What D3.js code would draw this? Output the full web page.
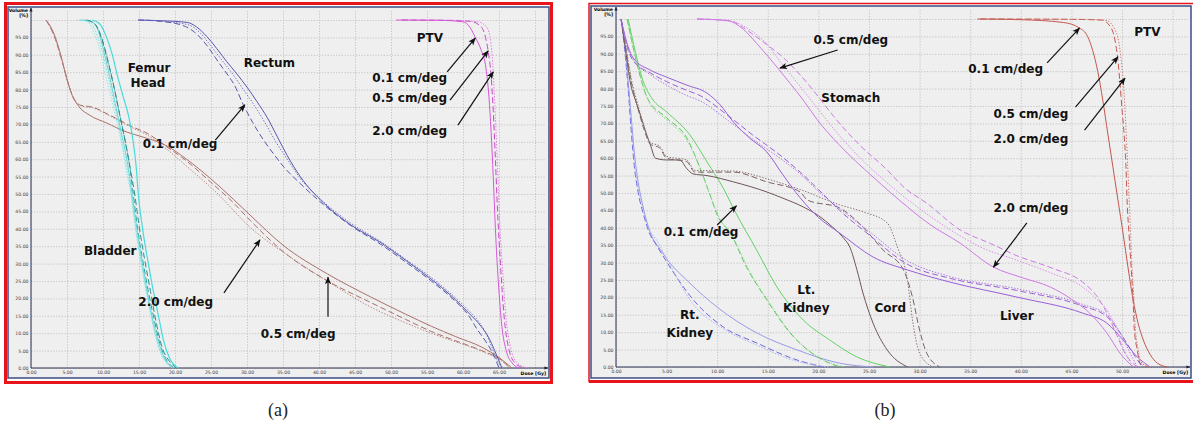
<!DOCTYPE html>
<html>
<head>
<meta charset="utf-8">
<script src="https://cdn.jsdelivr.net/npm/d3@7"></script>
<style>
  body { margin: 0; background: #fff; }
  .note { font-family: "DejaVu Sans", sans-serif; font-weight: bold; font-size: 12px; fill: #111; }
  .tick text { font-family: "DejaVu Sans", sans-serif; font-size: 4.6px; fill: #444; }
  .cap { font-family: "Liberation Serif", "DejaVu Serif", serif; font-size: 18px; fill: #222; }
</style>
</head>
<body>
<div id="chart"></div>
<script>
// ---------- data : dose [Gy], volume [%] ----------
var volTicks = d3.range(0, 101, 5);
var doseTicksA = d3.range(0, 71, 5);
var doseTicksB = d3.range(0, 56, 5);

// panel (a) - prostate
var bladder01 = [[2.1,100],[3.2,96],[4.2,89.4],[4.9,83.6],[5.6,79],[6.7,75],[8.1,72.7],[10.5,70.4],[13.3,67.8],[15.5,66.4],[18.9,63.8],[21.6,60],[24.9,54.5],[28.1,48.5],[30.4,44],[35,35.3],[41.2,27],[47.2,20.4],[52,15.5],[55.6,12],[59,9],[62.6,6],[65,3],[66.8,0]];
var bladder05 = [[2.1,100],[3.2,95.5],[4.2,89],[5,83],[5.7,78.5],[6.9,75.5],[8.5,75],[10.9,72.7],[14.1,69.3],[16.1,67.5],[18.9,63.5],[21.6,59.5],[24.9,53.5],[28.1,47.5],[30.4,42.5],[35,33.5],[41.2,25],[47.2,18.8],[52,14],[55.6,10.5],[59,7.8],[62.6,5],[65.5,2],[66.5,0]];
var bladder20 = [[2.1,100],[3.3,95],[4.3,88.5],[5.1,82.5],[5.8,78],[7,75.3],[8.5,74.8],[10.9,72.5],[14.1,69],[16.1,67],[18.9,62.8],[21.6,58],[25.8,50.3],[30.4,40.5],[36,31.9],[41.6,24.4],[47.2,17.5],[52,13],[55.6,10],[59,7.5],[62.6,4.8],[65.5,1.8],[66.5,0]];

var femurL01 = [[8.5,100],[9.5,99],[10.5,95],[11.3,90],[12,84],[12.8,78],[13.6,72],[14.2,65],[14.6,58],[14.9,50],[15.5,40],[16.3,30],[17,22],[17.7,15],[18.4,8],[19.2,3],[20.4,0]];
var femurL05 = [[7.5,100],[8.8,99],[9.8,95],[10.6,89],[11.4,82],[12.2,74],[13,66],[13.7,58],[14.2,50],[14.8,40],[15.6,30],[16.3,22],[17.1,14],[17.9,7],[18.9,2],[20,0]];
var femurL20 = [[6.4,100],[7.8,99.5],[8.8,96],[9.6,91],[10.4,84],[11.2,77],[12,70],[12.8,62],[13.4,55],[13.9,50],[14.5,40],[15.3,30],[16,22],[16.8,14],[17.6,7],[18.6,2],[19.6,0]];
var femurR01 = [[7,100],[8.5,99.5],[9.4,96.5],[10.1,91],[10.9,84],[11.7,76],[12.5,68],[13.3,60],[13.9,52],[14.3,46],[15,36],[15.8,26],[16.6,17],[17.5,9],[18.5,3],[19.8,0]];
var femurR05 = [[7.8,100],[9,98.5],[9.9,94],[10.8,87],[11.6,80],[12.4,72],[13.2,64],[13.9,56],[14.4,50],[15,41],[15.8,31],[16.6,22],[17.4,13],[18.2,6],[19.2,2],[20.2,0]];
var femurR20 = [[6.8,100],[8.2,99.3],[9.2,95.5],[10,90],[10.8,83],[11.6,75.5],[12.4,67.5],[13.1,60],[13.7,53],[14.1,47],[14.8,37],[15.6,27],[16.4,18],[17.2,10],[18.1,4],[19.1,1],[20,0]];

var rectum01 = [[14.9,100],[18,99.6],[21,98.5],[23,96],[24.5,92.5],[26,88],[27.4,84],[28.2,81.5],[29.5,75.6],[30.8,70.5],[32.3,65.5],[33.7,61.5],[35.1,57.8],[37.4,53],[40.6,47],[44.5,40.8],[48.6,35.5],[52,30.5],[55.6,25],[58.5,20],[60.8,15],[62,11],[63.2,7.5],[64.2,4],[65,0]];
var rectum05 = [[14.9,100],[18,99.8],[21.7,99.3],[23,98],[24.4,95.3],[25.8,91.8],[27.2,88],[28.6,84.5],[30,80.7],[31.4,76.5],[32.8,72],[34.2,66.5],[35.6,61],[37.4,55],[40.6,47.5],[44.5,41],[48.6,36],[52,31],[55.6,25.5],[58.5,20.5],[60.8,15.8],[62.5,12],[63.5,9],[64.4,5],[65.4,0]];
var rectum20 = [[16,100],[19,99.5],[22,98.5],[23.5,96.3],[25,92.5],[26.5,88.5],[28,84.5],[29.5,80],[31,75.5],[32.5,70.5],[34,65],[35.6,60],[37.4,54.5],[40.6,47.8],[44.5,41.5],[48.6,36.3],[52,31.3],[55.6,26],[58.5,21],[60.8,16.5],[62.3,13],[63.3,9.5],[64,6],[64.8,2],[65.6,0]];

var ptvA01 = [[50.7,100],[57,99.9],[60,99.5],[61,97.8],[61.7,95],[62.5,91.5],[63.2,86],[63.6,78],[63.9,68],[64.2,55],[64.5,40],[64.9,25],[65.4,12],[66,5],[66.8,1.5],[67.8,0]];
var ptvA05 = [[51.5,100],[58,99.9],[61,99.6],[62.3,98.5],[63,96],[63.5,91],[63.9,84],[64.2,74],[64.5,60],[64.8,45],[65.2,30],[65.7,15],[66.3,6],[67.2,1.5],[68.5,0]];
var ptvA20 = [[52,100],[59,99.9],[62,99.5],[63.3,98],[63.9,93],[64.2,85],[64.5,72],[64.8,58],[65.1,42],[65.5,28],[66,14],[66.6,6],[67.5,1.5],[69,0]];

// panel (b) - abdomen
var rtKidney01 = [[0.5,100],[0.9,92],[1.2,82],[1.5,72],[1.8,62],[2.2,53],[2.6,47],[3.2,40.2],[4.6,32.8],[7.3,24.1],[10,17.2],[13.9,9.8],[17.9,4.9],[22.1,1.1],[25.4,0]];
var rtKidney05 = [[0.5,100],[0.9,90],[1.2,80],[1.5,68],[1.8,58],[2.2,50],[2.7,44],[3.3,38.5],[4,35],[5.5,28],[7.3,20.5],[10.6,11.5],[13.9,6.9],[17.9,2],[20.5,0]];
var rtKidney20 = [[0.5,100],[0.9,91],[1.2,81],[1.5,70],[1.8,60],[2.2,51],[2.7,45],[3.3,39.5],[4,36.5],[5.5,28.5],[7.3,19.3],[10.6,11],[13.9,6.3],[17.9,1.6],[21,0]];

var ltKidney01 = [[1.2,100],[1.8,92],[2.7,82],[3.6,77],[5,73.3],[7.3,66.7],[9,58.9],[10.6,51.4],[11.8,44.5],[13.9,33.6],[15.9,23],[18.5,13.5],[21.1,7.8],[23.8,2.9],[27.1,0]];
var ltKidney05 = [[1.1,100],[2,88],[3.1,77.3],[5,71.6],[7,65.8],[8.3,57.2],[9.3,49.4],[10,43.7],[11.3,38.5],[12.9,28.7],[14.9,19.3],[17.2,9.8],[19.9,2.9],[22.1,0]];
var ltKidney20 = [[1.1,100],[2.1,87],[3.2,76.5],[5,71],[7,65.2],[8.4,56.5],[9.4,48.5],[10.2,43],[11.6,37],[13.2,27.5],[15.2,18.3],[17.5,9],[20.2,2.5],[22.6,0]];

var cord01 = [[0.5,100],[1,90],[1.4,82],[2,76],[2.4,72.4],[3,67],[3.4,63.8],[3.9,60],[5,59.5],[6.3,59.5],[7,57],[7.6,55.5],[9,55],[11.6,53.2],[14.9,50.3],[16.5,48.5],[18.5,46],[20,43.5],[21.4,40.2],[22.5,37],[23.1,34.5],[23.8,28],[24.4,21.3],[25.4,12.6],[26.8,4.9],[28.8,0]];
var cord05 = [[0.5,100],[1,91],[1.5,82],[2.2,74],[2.8,68],[3.4,64],[4.3,63],[5,60],[7,59],[7.8,56],[11.6,56],[14.9,53.2],[18.2,50.3],[18.9,48],[22.1,45.7],[24.4,40.2],[26.4,33.6],[28.4,27.9],[29.3,20],[30,10.6],[30.7,4],[32,0]];
var cord20 = [[0.5,100],[1,91.5],[1.5,83],[2.2,75],[2.8,69],[3.4,64.5],[4.3,63.5],[5,60.5],[7,59.5],[7.8,56.5],[11.6,56.3],[15,54],[18.2,51],[22.1,46.6],[24.5,44.5],[26.8,41.4],[27.8,34.5],[28.8,25],[29.3,13.5],[30,4],[31.3,0]];

var liver01 = [[0.5,100],[1.2,92],[1.7,88.8],[3.4,85.3],[5,83.3],[7,81],[9,78.7],[10.3,75.3],[11.6,70.4],[13.2,65.8],[14.9,61.8],[16.5,55.2],[18.2,48.6],[20,43],[22.1,38.5],[25.4,31.6],[28.8,27.9],[33,24.4],[39.6,20.1],[46.1,15.5],[48.5,12.6],[50.1,7.8],[51.5,2.9],[52.8,0]];
var liver05 = [[0.5,100],[1.2,91],[1.7,88],[3.4,84.5],[5,82],[7,79.5],[8.3,78],[11,72.4],[13.5,66.7],[16.2,60.9],[18.2,56],[20,51],[22.1,45],[25,38],[28.8,29.5],[33,25.5],[39.6,22],[46.1,17.5],[48.5,14.5],[50,9],[51.3,3],[52,0]];
var liver20 = [[0.5,100],[1.2,91.5],[1.7,88.3],[3.4,84],[5,81],[7,78],[8.3,76.5],[11,71],[13.5,65.5],[16.2,60],[18.2,55.5],[20,50.5],[22.1,45.5],[25,39],[28.8,30.5],[33,26],[39.6,22.5],[46.1,18],[48.5,15],[49.8,10],[50.8,4],[51.5,0]];

var stomach01 = [[8,100],[11.3,99.5],[12.6,97.5],[13.9,94.8],[15.2,92],[16.5,89],[17.7,85.5],[18.9,81.6],[20.3,76.5],[21.8,71],[24,64],[26.8,56.6],[28.5,51.5],[30.7,47.1],[34,39.4],[37,35.5],[39.6,32],[43,28.5],[46.1,24.4],[47.6,20],[48.6,15],[49.5,9],[50.4,3.5],[51.5,0]];
var stomach05 = [[8,100],[11,99.6],[12.6,98],[13.9,95.5],[15,92.5],[15.9,89],[17,85],[18.5,79.5],[20,74],[21.5,68.5],[23,63.5],[24.5,59],[26,55],[28,50],[30,45.5],[33,39.5],[36,34.5],[39.6,30.7],[43,27],[46.1,23],[47.5,19.5],[48.5,16.4],[49.3,12],[49.8,7.8],[50.5,3],[51.1,0]];
var stomach20 = [[8,100],[11,99.5],[12.6,97],[13.9,93],[15.9,86.2],[17.2,81.5],[18.5,76.7],[19.9,71],[22,64],[25.4,54.6],[28.8,46],[31,41],[34,35.6],[37.3,28.7],[40,25.8],[42.9,23],[45,19.5],[46.8,15.5],[48.5,9.8],[49.8,4],[51.1,0]];

var ptvB01 = [[35.7,100],[40,99.8],[44.2,99],[45.8,97.4],[46.6,95],[47.1,91],[47.6,85],[48.1,76.7],[48.6,67],[49.1,57.5],[49.6,48],[50.1,38.5],[50.6,28.5],[51.1,19.3],[51.6,12.5],[52.1,7.8],[52.8,3.5],[53.5,1.1],[54.5,0]];
var ptvB05 = [[36,100],[45,99.9],[48,99.7],[48.8,98],[49.3,94],[49.6,88],[49.8,81.6],[50,74],[50.2,67.2],[50.4,57],[50.5,48],[50.7,38],[50.9,28.7],[51.1,19],[51.2,11.5],[51.5,5],[51.8,1.1],[52.6,0]];
var ptvB20 = [[36.2,100],[45.5,99.9],[48.4,99.6],[49.2,97.5],[49.7,93],[50,86],[50.2,79],[50.35,71],[50.5,62],[50.65,52],[50.8,42],[50.95,31],[51.15,21],[51.3,12],[51.6,5],[52,1],[52.8,0]];

// ---------- drawing ----------
var svg = d3.select("#chart").append("svg")
    .attr("width", 1193)
    .attr("height", 426);

svg.append("defs").append("marker")
    .attr("id", "arrow")
    .attr("viewBox", "0 0 10 10")
    .attr("refX", 9).attr("refY", 5)
    .attr("markerWidth", 6.5).attr("markerHeight", 6.5)
    .attr("orient", "auto")
  .append("path")
    .attr("d", "M0,1 L10,5 L0,9 L2.5,5 Z")
    .attr("fill", "#111");

svg.append("defs").append("marker")
    .attr("id", "axArrow")
    .attr("viewBox", "0 0 10 10")
    .attr("refX", 9).attr("refY", 5)
    .attr("markerWidth", 4).attr("markerHeight", 4)
    .attr("orient", "auto")
  .append("path")
    .attr("d", "M0,1 L10,5 L0,9 Z")
    .attr("fill", "#223");

var DASH = { solid: null, dash: "6,3", dot: "1.4,1.6" };

function drawPanel(p) {
    var g = svg.append("g");

    // frame
    g.append("rect")
        .attr("x", p.frame[0]).attr("y", p.frame[1])
        .attr("width", p.frame[2]).attr("height", p.frame[3])
        .attr("fill", "#efefef")
        .attr("stroke", "#47578a")
        .attr("stroke-width", 1.6);

    var x = d3.scaleLinear().domain([0, p.xMax]).range([p.left, p.xMaxPx]);
    var y = d3.scaleLinear().domain([0, 100]).range([p.bottom, p.top]);

    var yAxis = d3.axisLeft(y)
        .tickValues(volTicks)
        .tickSize(-(p.axisEnd - p.left))
        .tickPadding(2.5)
        .tickFormat(function(d) { return d === 100 ? "" : d3.format(".2f")(d); });
    var xAxis = d3.axisBottom(x)
        .tickValues(p.doseTicks)
        .tickSize(-(p.bottom - p.gridTop))
        .tickPadding(3)
        .tickFormat(function(d) { return d > p.lastLabel ? "" : d3.format(".2f")(d); });

    g.append("g")
        .attr("class", "yGrid")
        .attr("transform", `translate(${p.left},0)`)
        .call(yAxis);
    g.append("g")
        .attr("class", "xGrid")
        .attr("transform", `translate(0,${p.bottom})`)
        .call(xAxis);

    g.selectAll(".domain").remove();
    g.selectAll(".tick line")
        .attr("stroke", "#b9b9b9")
        .attr("stroke-width", 0.8)
        .attr("stroke-dasharray", "1.2,1.6");

    // axis lines
    g.append("line")
        .attr("x1", p.left).attr("y1", p.bottom)
        .attr("x2", p.left).attr("y2", p.gridTop - 2)
        .attr("stroke", "#2a3050").attr("stroke-width", 1)
        .attr("marker-end", "url(#axArrow)");
    g.append("line")
        .attr("x1", p.left).attr("y1", p.bottom)
        .attr("x2", p.axisEnd + 2).attr("y2", p.bottom)
        .attr("stroke", "#2a3050").attr("stroke-width", 1)
        .attr("marker-end", "url(#axArrow)");

    g.append("text")
        .attr("x", p.left - 3).attr("y", p.gridTop + 2)
        .attr("text-anchor", "end")
        .style("font", "bold 4.6px 'DejaVu Sans'")
        .text("Volume");
    g.append("text")
        .attr("x", p.left - 3).attr("y", p.gridTop + 7)
        .attr("text-anchor", "end")
        .style("font", "bold 4.6px 'DejaVu Sans'")
        .text("[%]");
    g.append("text")
        .attr("x", p.axisEnd).attr("y", p.bottom + 7)
        .attr("text-anchor", "end")
        .style("font", "bold 4.6px 'DejaVu Sans'")
        .text("Dose [Gy]");

    // curves
    var line = d3.line()
        .x(function(d) { return x(d[0]); })
        .y(function(d) { return y(d[1]); })
        .curve(d3.curveMonotoneX);

    g.selectAll("path.dvh")
        .data(p.series)
        .enter()
        .append("path")
        .attr("class", "dvh")
        .attr("d", function(s) { return line(s.values); })
        .attr("fill", "none")
        .attr("stroke", function(s) { return s.color; })
        .attr("stroke-width", function(s) { return s.w || 1; })
        .attr("stroke-dasharray", function(s) { return DASH[s.style]; });

    // arrows
    g.selectAll("line.arr")
        .data(p.arrows)
        .enter()
        .append("line")
        .attr("class", "arr")
        .attr("x1", function(a) { return x(a[0]); })
        .attr("y1", function(a) { return y(a[1]); })
        .attr("x2", function(a) { return x(a[2]); })
        .attr("y2", function(a) { return y(a[3]); })
        .attr("stroke", "#111")
        .attr("stroke-width", 1.2)
        .attr("marker-end", "url(#arrow)");

    // labels
    g.selectAll("text.note")
        .data(p.notes)
        .enter()
        .append("text")
        .attr("class", "note")
        .attr("x", function(n) { return x(n[1]); })
        .attr("y", function(n) { return y(n[2]); })
        .attr("text-anchor", "middle")
        .text(function(n) { return n[0]; });

    svg.append("text")
        .attr("class", "cap")
        .attr("x", p.capX).attr("y", 416)
        .attr("text-anchor", "middle")
        .text(p.caption);
}

var brown = "#a9706a", cyan = "#46dcdc", teal = "#259e9e", rect = "#5656b0", ptvA = "#d658d8";

drawPanel({
    frame: [8, 7, 541, 371],
    left: 31, xMax: 70, xMaxPx: 535, axisEnd: 546,
    top: 20, bottom: 368, gridTop: 10,
    doseTicks: doseTicksA, lastLabel: 65,
    capX: 278, caption: "(a)",
    series: [
        { values: bladder01, color: brown, style: "solid" },
        { values: bladder05, color: brown, style: "dash" },
        { values: bladder20, color: "#b88580", style: "dot" },
        { values: femurL01, color: cyan, style: "solid", w: 1.2 },
        { values: femurL05, color: teal, style: "dash" },
        { values: femurL20, color: "#8ae8e8", style: "dot" },
        { values: femurR01, color: "#62d8d8", style: "solid" },
        { values: femurR05, color: "#2f8f8f", style: "dash" },
        { values: femurR20, color: "#6fdede", style: "dot" },
        { values: rectum01, color: rect, style: "dash" },
        { values: rectum05, color: rect, style: "solid" },
        { values: rectum20, color: "#7272c0", style: "dot" },
        { values: ptvA01, color: ptvA, style: "solid" },
        { values: ptvA05, color: "#c846c8", style: "dash" },
        { values: ptvA20, color: "#e07ae0", style: "dot" }
    ],
    arrows: [
        [25.6, 65.5, 29.7, 75.6],
        [57.8, 85.1, 61.7, 94.8],
        [58.2, 77.0, 63.5, 91.1],
        [59.3, 69.8, 64.2, 85.1],
        [26.8, 21.6, 31.8, 36.8],
        [41.25, 14.7, 41.25, 26.1]
    ],
    notes: [
        ["Femur", 16.4, 85.1],
        ["Head", 16.25, 80.7],
        ["Rectum", 33.1, 86.5],
        ["0.1 cm/deg", 20.7, 63.2],
        ["PTV", 55.4, 93.7],
        ["0.1 cm/deg", 52.6, 82.2],
        ["0.5 cm/deg", 52.6, 76.4],
        ["2.0 cm/deg", 52.6, 67.0],
        ["Bladder", 11.0, 32.5],
        ["2.0 cm/deg", 20.1, 17.8],
        ["0.5 cm/deg", 37.1, 8.6]
    ]
});

var rtk = "#9a9ae8", ltk = "#62d262", cord = "#6e5656", liver = "#9a5ed8", stom = "#cd7ae2", ptvB = "#c4564f";

drawPanel({
    frame: [591, 6, 600, 372],
    left: 616, xMax: 55, xMaxPx: 1172.6, axisEnd: 1188,
    top: 19, bottom: 367, gridTop: 9,
    doseTicks: doseTicksB, lastLabel: 50,
    capX: 885, caption: "(b)",
    series: [
        { values: rtKidney01, color: rtk, style: "solid" },
        { values: rtKidney05, color: "#6a6ae2", style: "dash" },
        { values: rtKidney20, color: "#aaaaf0", style: "dot" },
        { values: ltKidney01, color: ltk, style: "solid" },
        { values: ltKidney05, color: "#58c858", style: "dash" },
        { values: ltKidney20, color: "#80dc80", style: "dot" },
        { values: cord01, color: cord, style: "solid" },
        { values: cord05, color: "#7a6262", style: "dash" },
        { values: cord20, color: "#8a7070", style: "dot" },
        { values: liver01, color: liver, style: "solid" },
        { values: liver05, color: liver, style: "dash" },
        { values: liver20, color: "#a874dc", style: "dot" },
        { values: stomach01, color: stom, style: "dash" },
        { values: stomach05, color: "#d68ae6", style: "dot" },
        { values: stomach20, color: stom, style: "solid" },
        { values: ptvB01, color: ptvB, style: "solid" },
        { values: ptvB05, color: ptvB, style: "dash" },
        { values: ptvB20, color: "#d07a74", style: "dot" }
    ],
    arrows: [
        [21.9, 91.1, 16.2, 85.9],
        [10.0, 40.8, 11.9, 46.3],
        [40.6, 41.4, 37.3, 28.7],
        [42.6, 87.4, 45.8, 97.4],
        [45.4, 74.7, 49.6, 89.1],
        [46.3, 68.1, 50.3, 83.0]
    ],
    notes: [
        ["0.5 cm/deg", 23.2, 92.8],
        ["Stomach", 23.2, 76.1],
        ["0.1 cm/deg", 8.4, 37.6],
        ["Lt.", 18.8, 21.0],
        ["Kidney", 18.8, 15.8],
        ["Rt.", 7.3, 13.8],
        ["Kidney", 7.3, 8.6],
        ["Cord", 27.1, 15.8],
        ["Liver", 39.6, 13.5],
        ["2.0 cm/deg", 41.0, 44.5],
        ["PTV", 52.5, 95.1],
        ["0.1 cm/deg", 38.5, 84.5],
        ["0.5 cm/deg", 41.0, 71.6],
        ["2.0 cm/deg", 41.0, 64.4]
    ]
});

// red outer borders
svg.append("rect")
    .attr("x", 5.5).attr("y", 3.5)
    .attr("width", 546).attr("height", 379)
    .attr("fill", "none")
    .attr("stroke", "#e8141c")
    .attr("stroke-width", 3);
svg.append("rect")
    .attr("x", 589).attr("y", 3.5)
    .attr("width", 610).attr("height", 378)
    .attr("fill", "none")
    .attr("stroke", "#e8141c")
    .attr("stroke-width", 1.5);
svg.append("line")
    .attr("x1", 589).attr("y1", 381.5)
    .attr("x2", 1193).attr("y2", 381.5)
    .attr("stroke", "#e8141c")
    .attr("stroke-width", 3);
</script>
</body>
</html>
